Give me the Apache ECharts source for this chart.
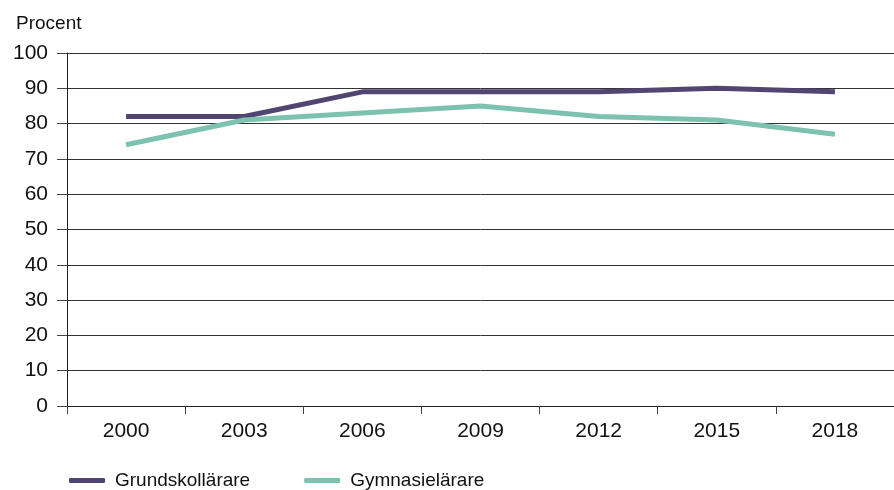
<!DOCTYPE html>
<html><head><meta charset="utf-8">
<script src="https://cdn.jsdelivr.net/npm/echarts@6/dist/echarts.min.js"></script>
<style>html,body{margin:0;padding:0;background:#fff}#c{width:894px;height:490px}</style>
</head><body><div id="c"></div>
<script>
const years = ['2000','2003','2006','2009','2012','2015','2018'];
const grundskol = [82, 82, 89, 89, 89, 90, 89];
const gymnasie = [74, 81, 83, 85, 82, 81, 77];
const yTicks = [0,10,20,30,40,50,60,70,80,90,100];
const font = 'Liberation Sans, Arial, sans-serif';
const chart = echarts.init(document.getElementById('c'));
chart.setOption({
  animation: false,
  textStyle: {fontFamily: font},
  title: {text: 'Procent', left: 11, top: 9, textStyle: {fontSize: 19, fontWeight: 'normal', color: '#111', fontFamily: font}},
  legend: {
    top: 466, left: 64, itemWidth: 36, itemHeight: 5, itemGap: 54,
    icon: 'roundRect',
    textStyle: {fontSize: 19, color: '#111', fontFamily: font, padding: [0,0,0,5]},
    data: ['Grundskollärare', 'Gymnasielärare']
  },
  grid: {left: 67, right: 0, top: 53, bottom: 84},
  xAxis: {
    type: 'category', data: years, boundaryGap: true,
    axisLine: {lineStyle: {color: '#222', width: 1}},
    axisTick: {show: true, length: 8, lineStyle: {color: '#444'}},
    axisLabel: {fontSize: 21, color: '#111', margin: 15}
  },
  yAxis: {
    type: 'value', min: yTicks[0], max: yTicks[yTicks.length-1], interval: 10,
    axisLine: {show: true, lineStyle: {color: '#222'}},
    axisTick: {show: true, length: 10, lineStyle: {color: '#444'}},
    axisLabel: {fontSize: 21, color: '#111', margin: 19},
    splitLine: {lineStyle: {color: '#333', width: 1}}
  },
  series: [
    {name: 'Grundskollärare', type: 'line', data: grundskol, symbol: 'none',
     lineStyle: {color: '#514671', width: 5}, itemStyle: {color: '#514671'}},
    {name: 'Gymnasielärare', type: 'line', data: gymnasie, symbol: 'none',
     lineStyle: {color: '#7cc2ae', width: 5}, itemStyle: {color: '#7cc2ae'}}
  ]
});
</script></body></html>
